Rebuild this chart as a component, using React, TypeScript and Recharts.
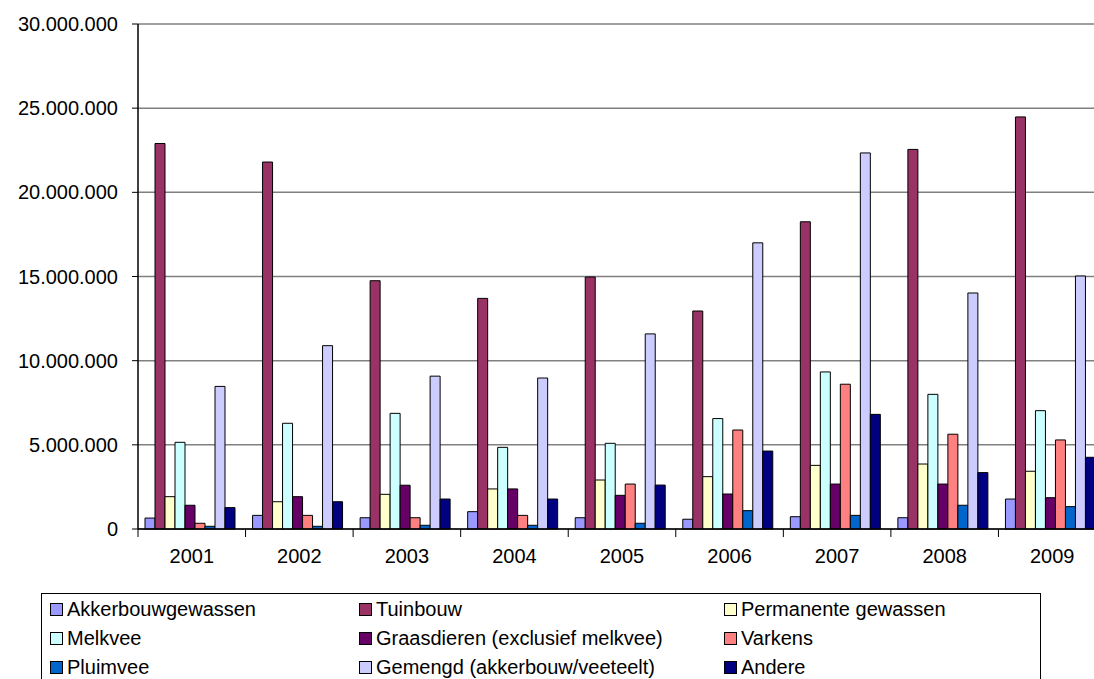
import React from 'react';
import { BarChart, Bar, XAxis, YAxis, CartesianGrid } from 'recharts';

// Years on the category axis
const years = ['2001', '2002', '2003', '2004', '2005', '2006', '2007', '2008', '2009'];

// Series values per year (euro)
const akkerbouw = [650000, 810000, 670000, 1030000, 670000, 580000, 730000, 670000, 1780000];
const tuinbouw = [22900000, 21800000, 14750000, 13700000, 14970000, 12950000, 18250000, 22550000, 24480000];
const permanent = [1920000, 1620000, 2060000, 2380000, 2910000, 3110000, 3780000, 3860000, 3430000];
const melkvee = [5150000, 6280000, 6870000, 4850000, 5090000, 6560000, 9330000, 8000000, 7030000];
const graasdieren = [1410000, 1920000, 2600000, 2380000, 2000000, 2080000, 2670000, 2670000, 1860000];
const varkens = [340000, 810000, 670000, 810000, 2670000, 5880000, 8600000, 5630000, 5290000];
const pluimvee = [160000, 160000, 220000, 220000, 340000, 1090000, 810000, 1410000, 1330000];
const gemengd = [8470000, 10890000, 9080000, 8970000, 11590000, 17000000, 22340000, 14020000, 15030000];
const andere = [1270000, 1620000, 1780000, 1780000, 2610000, 4630000, 6810000, 3350000, 4260000];

const yTicks = [0, 5000000, 10000000, 15000000, 20000000, 25000000, 30000000];

// Series definitions: key, legend label, values, colour
const series = [
  { key: 'akkerbouw', name: 'Akkerbouwgewassen', values: akkerbouw, color: '#9999FF' },
  { key: 'tuinbouw', name: 'Tuinbouw', values: tuinbouw, color: '#993366' },
  { key: 'permanent', name: 'Permanente gewassen', values: permanent, color: '#FFFFCC' },
  { key: 'melkvee', name: 'Melkvee', values: melkvee, color: '#CCFFFF' },
  { key: 'graasdieren', name: 'Graasdieren (exclusief melkvee)', values: graasdieren, color: '#660066' },
  { key: 'varkens', name: 'Varkens', values: varkens, color: '#FF8080' },
  { key: 'pluimvee', name: 'Pluimvee', values: pluimvee, color: '#0066CC' },
  { key: 'gemengd', name: 'Gemengd (akkerbouw/veeteelt)', values: gemengd, color: '#CCCCFF' },
  { key: 'andere', name: 'Andere', values: andere, color: '#000080' },
];

const data = years.map((year, i) => {
  const row: { [k: string]: string | number } = { year };
  series.forEach((s) => {
    row[s.key] = s.values[i];
  });
  return row;
});

const FONT = 'Liberation Sans, Arial, sans-serif';
const CHART_W = 1110;
const MARGIN_L = 138;
const MARGIN_R = 4;
const catWidth = (CHART_W - MARGIN_L - MARGIN_R) / years.length;

const formatNumber = (v: number) => String(v).replace(/\B(?=(\d{3})+(?!\d))/g, '.');

// x tick: label plus tick marks between categories
const YearTick = (props: any) => {
  const { x, y, payload, index } = props;
  const left = x - catWidth / 2;
  return (
    <g>
      <line x1={left} y1={y} x2={left} y2={y + 8} stroke="#000" />
      {index === years.length - 1 && (
        <line x1={x + catWidth / 2} y1={y} x2={x + catWidth / 2} y2={y + 8} stroke="#000" />
      )}
      <text x={x} y={y + 34} textAnchor="middle" fontSize={20} fontFamily={FONT} fill="#000">
        {payload.value}
      </text>
    </g>
  );
};

const App: React.FC = () => {
  return (
    <div
      style={{
        position: 'absolute',
        left: 0,
        top: 0,
        width: 1094,
        height: 679,
        overflow: 'hidden',
        background: '#fff',
        fontFamily: FONT,
      }}
    >
      <BarChart
        width={CHART_W}
        height={590}
        data={data}
        margin={{ top: 24, right: MARGIN_R, bottom: 0, left: 0 }}
        barCategoryGap={7}
        barGap={0}
      >
        <CartesianGrid vertical={false} stroke="#808080" strokeWidth={1.5} />
        <XAxis
          dataKey="year"
          height={61}
          axisLine={{ stroke: '#000', strokeWidth: 1.5 }}
          tickLine={false}
          tickSize={0}
          tickMargin={0}
          tick={<YearTick />}
          interval={0}
        />
        <YAxis
          width={MARGIN_L}
          domain={[0, 30000000]}
          ticks={yTicks}
          interval={0}
          tickFormatter={formatNumber}
          axisLine={{ stroke: '#000', strokeWidth: 1.5 }}
          tickLine={{ stroke: '#000' }}
          tickSize={6}
          tickMargin={14}
          tick={{ fontSize: 20, fontFamily: FONT, fill: '#000' }}
        />
        {series.map((s) => (
          <Bar
            key={s.key}
            dataKey={s.key}
            name={s.name}
            fill={s.color}
            stroke="#000"
            strokeWidth={1}
            isAnimationActive={false}
          />
        ))}
      </BarChart>
      <div
        style={{
          position: 'absolute',
          left: 41,
          top: 593,
          width: 1000,
          height: 110,
          border: '1px solid #000',
          boxSizing: 'border-box',
          background: '#fff',
        }}
      >
        {series.map((s, i) => {
          const colLeft = [8, 317, 682][i % 3];
          const rowTop = 4 + Math.floor(i / 3) * 29;
          return (
            <div
              key={s.key}
              style={{
                position: 'absolute',
                left: colLeft,
                top: rowTop,
                display: 'flex',
                alignItems: 'center',
                whiteSpace: 'nowrap',
                fontSize: 20,
                lineHeight: '22px',
                color: '#000',
              }}
            >
              <span
                style={{
                  display: 'inline-block',
                  width: 11,
                  height: 11,
                  background: s.color,
                  border: '1px solid #000',
                  marginRight: 4,
                }}
              />
              {s.name}
            </div>
          );
        })}
      </div>
    </div>
  );
};

export default App;
